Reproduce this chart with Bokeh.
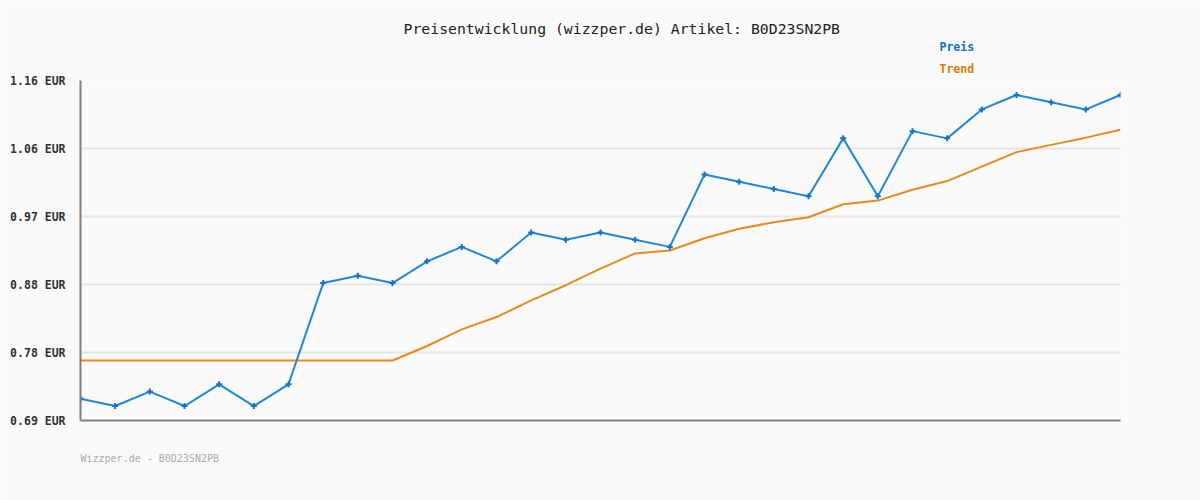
from bokeh.plotting import figure
from bokeh.models import Range1d, FixedTicker, Title
from bokeh.embed import file_html
from bokeh.resources import INLINE

# Data
preis = [0.72, 0.71, 0.73, 0.71, 0.74, 0.71, 0.74, 0.88, 0.89, 0.88, 0.91,
         0.93, 0.91, 0.95, 0.94, 0.95, 0.94, 0.93, 1.03, 1.02, 1.01, 1.00,
         1.08, 1.00, 1.09, 1.08, 1.12, 1.14, 1.13, 1.12, 1.14]
trend = [0.773, 0.773, 0.773, 0.773, 0.773, 0.773, 0.773, 0.773, 0.773, 0.773,
         0.793, 0.816, 0.833, 0.856, 0.877, 0.900, 0.921, 0.925, 0.942, 0.955,
         0.964, 0.971, 0.989, 0.994, 1.009, 1.021, 1.041, 1.061, 1.071, 1.081, 1.092]
idx = list(range(len(preis)))
y_ticks = [0.69, 0.784, 0.878, 0.972, 1.066, 1.16]
y_tick_labels = ["0.69 EUR", "0.78 EUR", "0.88 EUR", "0.97 EUR", "1.06 EUR", "1.16 EUR"]
title_text = "Preisentwicklung (wizzper.de) Artikel: B0D23SN2PB"
footer_text = "Wizzper.de - B0D23SN2PB"
legend_names = ["Preis", "Trend"]

FONT = "DejaVu Sans Mono"
BG = "#fafafa"

p = figure(width=1200, height=500, output_backend="svg", toolbar_location=None, title=None,
           x_range=Range1d(0, 30), y_range=Range1d(0.69, 1.16),
           min_border_left=80, min_border_right=80, min_border_top=80, min_border_bottom=80,
           background_fill_color=BG, border_fill_color=BG, outline_line_color=None)

# axes
p.yaxis.ticker = FixedTicker(ticks=y_ticks)
p.yaxis.major_label_overrides = {t: l for t, l in zip(y_ticks, y_tick_labels)}
p.yaxis.axis_line_color = "#808080"
p.yaxis.axis_line_width = 2
p.yaxis.major_tick_line_color = None
p.yaxis.minor_tick_line_color = None
p.yaxis.major_label_standoff = 9
p.yaxis.major_label_text_font = FONT
p.yaxis.major_label_text_font_style = "bold"
p.yaxis.major_label_text_font_size = "11.5px"
p.yaxis.major_label_text_color = "#333333"

p.xaxis.ticker = FixedTicker(ticks=[])
p.xaxis.axis_line_color = "#808080"
p.xaxis.axis_line_width = 2
p.xaxis.major_tick_line_color = None
p.xaxis.minor_tick_line_color = None

p.xgrid.grid_line_color = None
p.ygrid.grid_line_color = "#e6e6e6"
p.ygrid.grid_line_width = 2

# series
p.line(idx, trend, line_color="#e88a1e", line_width=2)
p.line(idx, preis, line_color="#2188d4", line_width=2)
p.scatter(idx, preis, marker="cross", size=6, line_color="#1473c6", line_width=2)

# texts above the frame (stacked titles; first added is nearest the frame)
p.add_layout(Title(text=legend_names[1], align="left", offset=859, standoff=9,
                   text_font=FONT, text_font_style="bold", text_font_size="11.5px",
                   text_color="#dd7a00"), "above")
p.add_layout(Title(text=legend_names[0], align="left", offset=859, standoff=3,
                   text_font=FONT, text_font_style="bold", text_font_size="11.5px",
                   text_color="#0f72c4"), "above")
p.add_layout(Title(text=title_text, align="left", offset=323, standoff=0,
                   text_font=FONT, text_font_style="normal", text_font_size="14.8px",
                   text_color="#222222"), "above")
# footer
p.add_layout(Title(text=footer_text, align="left", offset=0, standoff=60,
                   text_font=FONT, text_font_style="normal", text_font_size="10px",
                   text_color="#aaaaaa"), "below")

open("out.html", "w").write(file_html(p, INLINE))
